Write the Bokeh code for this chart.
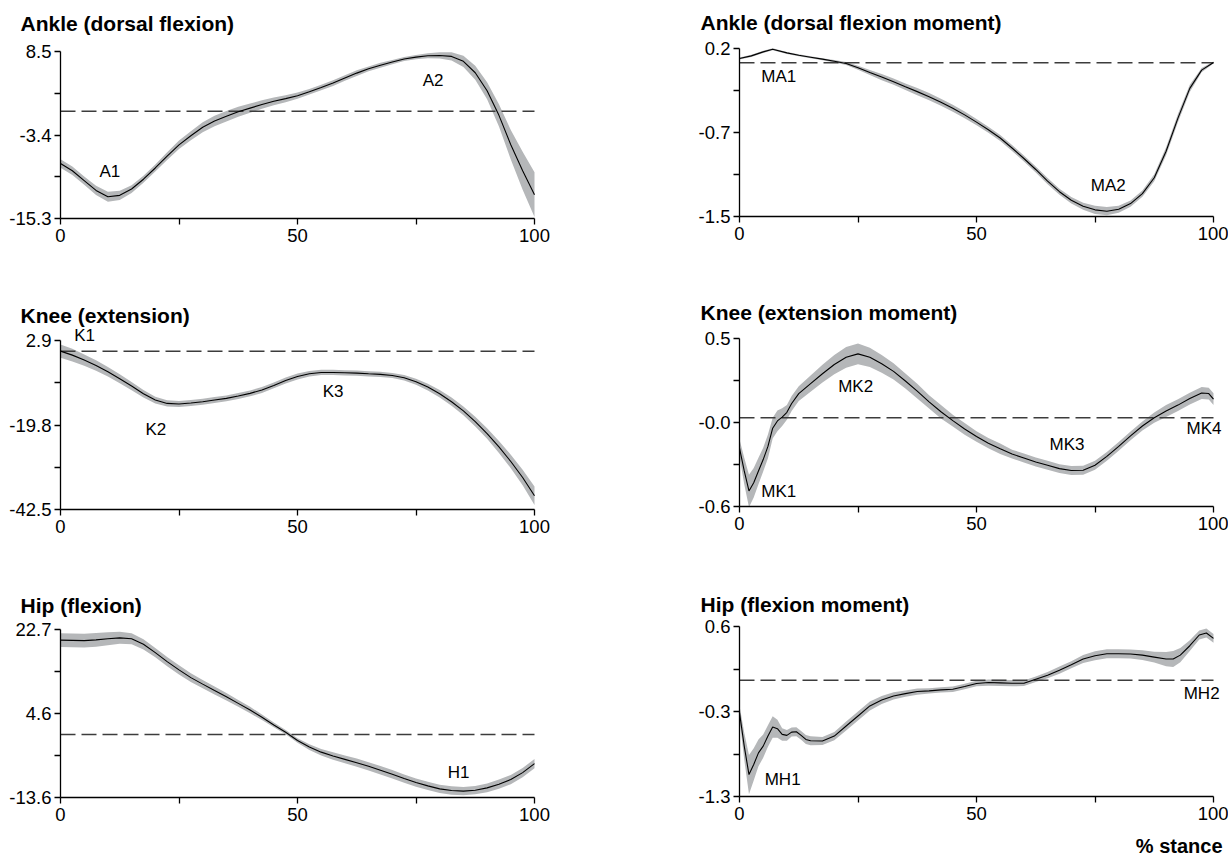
import numpy as np
from bokeh.plotting import figure
from bokeh.models import Range1d, FixedTicker, CustomJSTickFormatter, Label
from bokeh.layouts import row, column
from bokeh.embed import file_html
from bokeh.resources import INLINE

# ---------------- data ----------------
x_grid = [0, 2.5, 5, 7.5, 10, 12.5, 15, 17.5, 20, 22.5, 25, 27.5, 30, 32.5, 35, 37.5, 40,
          42.5, 45, 47.5, 50, 52.5, 55, 57.5, 60, 62.5, 65, 67.5, 70, 72.5, 75, 77.5, 80,
          82.5, 85, 87.5, 90, 92.5, 95, 97.5, 100]

ankle_x = x_grid
ankle_mean = [-7.46, -8.5, -9.9, -11.3, -12.2, -12.0, -11.1, -9.7, -8.1, -6.4, -4.8, -3.5, -2.3,
              -1.4, -0.74, -0.09, 0.43, 0.94, 1.4, 1.78, 2.2, 2.76, 3.37, 4.0, 4.72, 5.42, 6.03,
              6.54, 7.0, 7.43, 7.7, 7.9, 7.94, 7.8, 7.1, 5.47, 2.9, -0.6, -4.8, -8.5, -11.9]
ankle_sd = [0.6, 0.6, 0.6, 0.65, 0.7, 0.65, 0.55, 0.5, 0.5, 0.55, 0.6, 0.65, 0.7, 0.75, 0.75,
            0.7, 0.65, 0.6, 0.55, 0.5, 0.45, 0.4, 0.4, 0.4, 0.4, 0.4, 0.35, 0.35, 0.3, 0.3, 0.3,
            0.35, 0.45, 0.6, 0.8, 1.0, 1.2, 1.6, 2.1, 2.7, 3.2]
ankle_yrange = (-15.3, 8.5)
ankle_ylabels = ["-15.3", "-3.4", "8.5"]
ankle_notes = [("A1", 10.4, -8.6), ("A2", 78.6, 4.3)]

ankle_m_x = [0, 2.5, 5, 7, 10, 12.5, 15, 17.5, 20, 22.5, 25, 27.5, 30, 32.5, 35, 37.5, 40,
             42.5, 45, 47.5, 50, 52.5, 55, 57.5, 60, 62.5, 65, 67.5, 70, 72.5, 75, 77.5, 80,
             82.5, 85, 87.5, 90, 92.5, 95, 97.5, 100]
ankle_m_mean = [0.042, 0.068, 0.107, 0.133, 0.097, 0.074, 0.055, 0.036, 0.016, -0.006, -0.048,
                -0.094, -0.139, -0.184, -0.233, -0.281, -0.33, -0.385, -0.443, -0.508, -0.579,
                -0.653, -0.734, -0.831, -0.934, -1.041, -1.154, -1.258, -1.342, -1.4, -1.435,
                -1.448, -1.429, -1.374, -1.277, -1.122, -0.863, -0.54, -0.249, -0.071, 0.003]
ankle_m_sd = [0.01, 0.01, 0.01, 0.01, 0.01, 0.01, 0.01, 0.01, 0.012, 0.015, 0.02, 0.025, 0.03,
              0.03, 0.032, 0.035, 0.035, 0.035, 0.035, 0.033, 0.03, 0.03, 0.03, 0.03, 0.03, 0.03,
              0.03, 0.03, 0.032, 0.035, 0.04, 0.04, 0.035, 0.03, 0.03, 0.035, 0.04, 0.04, 0.035,
              0.02, 0.01]
ankle_m_yrange = (-1.5, 0.14)
ankle_m_ylabels = ["-1.5", "-0.7", "0.2"]
ankle_m_notes = [("MA1", 8.3, -0.136), ("MA2", 77.8, -1.2)]

knee_x = x_grid
knee_mean = [0.04, -1.03, -2.37, -3.8, -5.5, -7.38, -9.34, -11.4, -13.1, -14.0, -14.17, -13.9,
             -13.54, -13.1, -12.65, -12.0, -11.3, -10.4, -9.16, -7.82, -6.75, -6.04, -5.68,
             -5.68, -5.77, -5.86, -6.04, -6.2, -6.5, -7.1, -8.18, -9.6, -11.4, -13.54, -16.0,
             -18.9, -22.1, -25.7, -29.6, -33.9, -38.8]
knee_sd = [1.8, 1.7, 1.5, 1.4, 1.3, 1.2, 1.1, 1.0, 0.9, 0.85, 0.8, 0.8, 0.8, 0.8, 0.8, 0.8, 0.8,
           0.8, 0.8, 0.8, 0.8, 0.75, 0.7, 0.7, 0.7, 0.7, 0.7, 0.7, 0.7, 0.75, 0.8, 0.9, 1.0, 1.1,
           1.2, 1.3, 1.4, 1.6, 1.8, 2.1, 2.5]
knee_yrange = (-42.5, 2.9)
knee_ylabels = ["-42.5", "-19.8", "2.9"]
knee_notes = [("K1", 5.1, 4.3), ("K2", 20.1, -21.0), ("K3", 57.5, -10.7)]

knee_m_x = [0, 1, 2, 3, 4, 5, 6, 7, 8, 9, 10, 11, 12.5, 15, 17.5, 20, 22.5, 25, 27.5, 30, 32.5,
            35, 37.5, 40, 42.5, 45, 47.5, 50, 52.5, 55, 57.5, 60, 62.5, 65, 67.5, 70, 72.5, 75,
            77.5, 80, 82.5, 85, 87.5, 90, 92.5, 95, 97.5, 99, 100]
knee_m_mean = [-0.205, -0.36, -0.495, -0.44, -0.36, -0.283, -0.194, -0.071, -0.022, 0.004, 0.036,
               0.096, 0.163, 0.23, 0.297, 0.359, 0.408, 0.431, 0.408, 0.364, 0.313, 0.248, 0.179,
               0.107, 0.04, -0.02, -0.076, -0.127, -0.172, -0.21, -0.246, -0.272, -0.299, -0.321,
               -0.344, -0.357, -0.355, -0.321, -0.261, -0.194, -0.123, -0.056, 0.0, 0.045, 0.085,
               0.129, 0.167, 0.163, 0.125]
knee_m_sd = [0.06, 0.09, 0.11, 0.1, 0.09, 0.08, 0.08, 0.07, 0.07, 0.06, 0.05, 0.05, 0.05, 0.055,
             0.06, 0.065, 0.07, 0.07, 0.065, 0.06, 0.055, 0.05, 0.05, 0.045, 0.045, 0.04, 0.04,
             0.035, 0.035, 0.035, 0.03, 0.03, 0.03, 0.03, 0.03, 0.03, 0.03, 0.03, 0.03, 0.03,
             0.03, 0.03, 0.035, 0.04, 0.04, 0.04, 0.04, 0.04, 0.04]
knee_m_yrange = (-0.6, 0.535)
knee_m_ylabels = ["-0.6", "-0.0", "0.5"]
knee_m_notes = [("MK1", 8.3, -0.50), ("MK2", 24.5, 0.214), ("MK3", 69.1, -0.183),
                ("MK4", 98.0, -0.071)]

hip_x = x_grid
hip_mean = [20.4, 20.35, 20.3, 20.45, 20.7, 20.9, 20.7, 19.5, 17.7, 15.76, 13.97, 12.3, 10.9,
            9.53, 8.17, 6.74, 5.3, 3.73, 2.08, 0.51, -1.28, -2.71, -3.8, -4.64, -5.36, -6.08,
            -6.86, -7.72, -8.58, -9.51, -10.37, -11.09, -11.73, -12.09, -12.23, -12.02, -11.52,
            -10.73, -9.73, -8.22, -6.29]
hip_sd = [1.5, 1.5, 1.5, 1.5, 1.4, 1.3, 1.2, 1.1, 1.0, 1.0, 1.0, 0.95, 0.9, 0.85, 0.8, 0.75, 0.7,
          0.6, 0.5, 0.45, 0.5, 0.6, 0.7, 0.8, 0.85, 0.9, 0.9, 0.9, 0.9, 0.9, 0.9, 0.9, 0.9, 0.9,
          0.9, 0.9, 0.95, 1.0, 1.0, 1.0, 1.0]
hip_yrange = (-13.6, 22.7)
hip_ylabels = ["-13.6", "4.6", "22.7"]
hip_notes = [("H1", 84.0, -8.2)]

hip_m_x = [0, 1, 2, 3, 4, 5, 6, 7, 8, 9, 10, 11, 12, 13, 14, 15, 17.5, 20, 22.5, 25, 27.5, 30,
           32.5, 35, 37.5, 40, 42.5, 45, 47.5, 50, 52.5, 55, 57.5, 60, 62.5, 65, 67.5, 70, 72.5,
           75, 77.5, 80, 82.5, 85, 87.5, 90, 91.5, 93, 95, 97, 98.5, 100]
hip_m_mean = [-0.363, -0.737, -1.055, -0.942, -0.812, -0.737, -0.625, -0.524, -0.542, -0.606,
              -0.617, -0.58, -0.576, -0.617, -0.662, -0.677, -0.68, -0.625, -0.512, -0.4, -0.288,
              -0.221, -0.176, -0.15, -0.127, -0.12, -0.108, -0.101, -0.071, -0.037, -0.026, -0.03,
              -0.034, -0.034, 0.011, 0.056, 0.112, 0.172, 0.236, 0.273, 0.295, 0.295, 0.292, 0.28,
              0.258, 0.236, 0.236, 0.28, 0.385, 0.505, 0.527, 0.467]
hip_m_sd = [0.08, 0.15, 0.22, 0.18, 0.15, 0.13, 0.12, 0.12, 0.1, 0.07, 0.06, 0.05, 0.05, 0.05,
            0.05, 0.05, 0.045, 0.045, 0.05, 0.05, 0.05, 0.045, 0.04, 0.035, 0.035, 0.03, 0.03,
            0.03, 0.03, 0.03, 0.035, 0.035, 0.035, 0.03, 0.03, 0.035, 0.04, 0.04, 0.045, 0.05,
            0.05, 0.05, 0.05, 0.055, 0.06, 0.08, 0.09, 0.08, 0.06, 0.05, 0.05, 0.05]
hip_m_yrange = (-1.3, 0.6)
hip_m_ylabels = ["-1.3", "-0.3", "0.6"]
hip_m_notes = [("MH1", 9.1, -1.11), ("MH2", 97.5, -0.15)]

x_ticks = [0, 50, 100]
x_minor_ticks = [25, 75]
x_axis_label = "% stance"

# ---------------- styling / layout ----------------
FONT = "Liberation Sans"
BAND = "#b5b7b9"
TICK_SIZE = "18.5px"
NOTE_SIZE = "17px"
TITLE_SIZE = "21px"

LEFT_W, RIGHT_W = 690, 538
ROW_H = [297, 289, 271]
# pixel positions (inside each figure) of x=0 and x=100
LEFT_X = (60, 534)
RIGHT_X = (49, 523)


def panel(title, xs, mean, sd, yr, ylabels, notes, w, h, xpx, ypx, title_dx, title_dy):
    ylo, yhi = yr
    L, R = xpx
    T, B = ypx
    kx = (R - L) / 100.0
    ky = (B - T) / (yhi - ylo)
    xr = Range1d(-L / kx, 100 + (w - R) / kx)
    yrng = Range1d(ylo - (h - B) / ky, yhi + T / ky)
    p = figure(width=w, height=h, output_backend="svg", toolbar_location=None,
               x_range=xr, y_range=yrng, min_border=0, min_border_left=0,
               min_border_right=0, min_border_top=0, min_border_bottom=0)
    p.outline_line_color = None
    p.grid.visible = False
    p.background_fill_color = "white"
    m = np.array(mean, dtype=float)
    s = np.array(sd, dtype=float)
    p.varea(x=xs, y1=m - s, y2=m + s, fill_color=BAND, fill_alpha=1.0)
    p.line(x=[x_ticks[0], x_ticks[-1]], y=[0, 0], line_color="#3c3c3c",
           line_width=1.5, line_dash="15 6")
    p.line(xs, mean, line_color="black", line_width=1.1)

    mid = (ylo + yhi) / 2.0
    p.yaxis.ticker = FixedTicker(ticks=[ylo, mid, yhi],
                                 minor_ticks=[(ylo + mid) / 2.0, (mid + yhi) / 2.0])
    p.yaxis.formatter = CustomJSTickFormatter(args=dict(labels=ylabels),
                                              code="return labels[index];")
    p.xaxis.ticker = FixedTicker(ticks=x_ticks, minor_ticks=x_minor_ticks)
    p.yaxis.fixed_location = x_ticks[0]
    p.xaxis.fixed_location = ylo
    p.yaxis.bounds = (ylo, yhi)
    p.xaxis.bounds = (x_ticks[0], x_ticks[-1])
    for ax in (p.xaxis[0], p.yaxis[0]):
        ax.axis_line_color = "black"
        ax.axis_line_width = 1.3
        ax.major_tick_line_color = "black"
        ax.minor_tick_line_color = "black"
        ax.major_tick_line_width = 1.3
        ax.minor_tick_line_width = 1.3
        ax.major_tick_out = 6
        ax.major_tick_in = 0
        ax.minor_tick_out = 6
        ax.minor_tick_in = 0
        ax.major_label_text_font = FONT
        ax.major_label_text_font_size = TICK_SIZE
        ax.major_label_text_color = "black"
    p.yaxis.major_label_standoff = 3
    p.xaxis.major_label_standoff = 4
    for text, nx, ny in notes:
        p.add_layout(Label(x=nx, y=ny, text=text, text_align="center", text_baseline="middle",
                           text_font=FONT, text_font_size=NOTE_SIZE, text_color="black"))
    p.add_layout(Label(x=x_ticks[0], y=yhi, text=title, x_offset=title_dx, y_offset=title_dy,
                       text_align="left", text_baseline="middle", text_font=FONT,
                       text_font_size=TITLE_SIZE, text_font_style="bold", text_color="black"))
    return p


p1 = panel("Ankle (dorsal flexion)", ankle_x, ankle_mean, ankle_sd, ankle_yrange,
           ankle_ylabels, ankle_notes, LEFT_W, ROW_H[0], LEFT_X, (51, 218), -40, 28)
p2 = panel("Ankle (dorsal flexion moment)", ankle_m_x, ankle_m_mean, ankle_m_sd, ankle_m_yrange,
           ankle_m_ylabels, ankle_m_notes, RIGHT_W, ROW_H[0], RIGHT_X, (48, 216), -39, 26)
p3 = panel("Knee (extension)", knee_x, knee_mean, knee_sd, knee_yrange, knee_ylabels,
           knee_notes, LEFT_W, ROW_H[1], LEFT_X, (43, 212), -40, 25)
p4 = panel("Knee (extension moment)", knee_m_x, knee_m_mean, knee_m_sd, knee_m_yrange,
           knee_m_ylabels, knee_m_notes, RIGHT_W, ROW_H[1], RIGHT_X, (41, 209), -39, 26)
p5 = panel("Hip (flexion)", hip_x, hip_mean, hip_sd, hip_yrange, hip_ylabels, hip_notes,
           LEFT_W, ROW_H[2], LEFT_X, (43, 211), -40, 24)
p6 = panel("Hip (flexion moment)", hip_m_x, hip_m_mean, hip_m_sd, hip_m_yrange, hip_m_ylabels,
           hip_m_notes, RIGHT_W, ROW_H[2], RIGHT_X, (40, 210), -39, 22)
p6.add_layout(Label(x=x_ticks[-1], y=hip_m_yrange[0], text=x_axis_label, x_offset=9,
                    y_offset=-49, text_align="right", text_baseline="middle", text_font=FONT,
                    text_font_size="20px", text_font_style="bold", text_color="black"))

layout = column(row(p1, p2), row(p3, p4), row(p5, p6))
open("out.html", "w").write(file_html(layout, INLINE))
